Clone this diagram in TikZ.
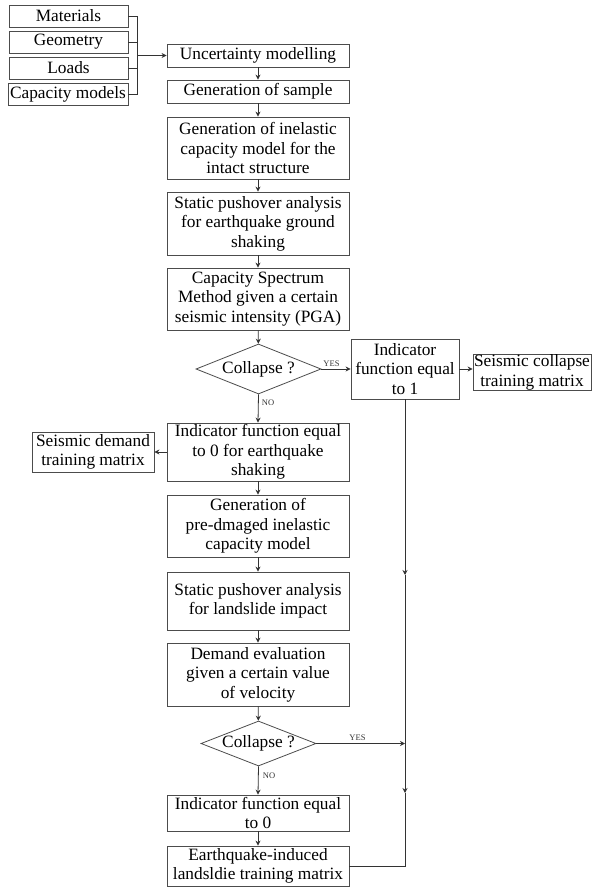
\documentclass[tikz,border=0pt]{standalone}
\usepackage{fontspec}
\setmainfont{Liberation Serif}
\usetikzlibrary{arrows.meta,shapes.geometric}
\begin{document}
\begin{tikzpicture}[x=1pt,y=-1pt,
  box/.style={draw=black!70, line width=0.8pt, inner sep=0pt, align=center,
    font=\fontsize{17.3}{19.5}\selectfont},
  dec/.style={draw=black!70, line width=0.8pt, diamond, aspect=2.5, inner sep=0pt,
    font=\fontsize{17.3}{19.5}\selectfont},
  ln/.style={line width=0.8pt, draw=black!80},
  arr/.style={ln, -{Stealth[length=5pt,width=5pt]}},
  lbl/.style={font=\fontsize{8.5}{9}\selectfont, inner sep=0pt, text=black!80}]
\useasboundingbox (0,0) rectangle (592,888);
% left inputs
\node[box, minimum width=119pt, minimum height=22pt] (mat) at (68.5,16) {Materials};
\node[box, minimum width=119pt, minimum height=22pt] (geo) at (68.5,42) {Geometry};
\node[box, minimum width=119pt, minimum height=22pt] (loa) at (68.5,68) {Loads};
\node[box, minimum width=120pt, minimum height=22pt] (cap) at (68,94) {Capacity models};
\coordinate (j) at (137,55.5);
% main column
\node[box, minimum width=182pt, minimum height=23pt] (unc) at (258,55.5) {Uncertainty modelling};
\node[box, minimum width=182pt, minimum height=23pt] (gen) at (258,91.5) {Generation of sample};
\node[box, minimum width=182pt, minimum height=62pt] (inel) at (258,148) {Generation of inelastic\\capacity model for the\\intact structure};
\node[box, minimum width=182pt, minimum height=63pt] (push) at (258,223.5) {Static pushover analysis\\for earthquake ground\\shaking};
\node[box, minimum width=182pt, minimum height=62pt] (csm) at (258,299) {Capacity Spectrum\\Method given a certain\\seismic intensity (PGA)};
\node[dec, minimum width=125pt, minimum height=50pt] (d1) at (258.5,369) {Collapse ?};
\node[box, minimum width=108pt, minimum height=60pt] (ind1) at (405,369) {Indicator\\function equal\\to 1};
\node[box, minimum width=118pt, minimum height=33pt] (scol) at (532,372.5) {Seismic collapse\\training matrix};
\node[box, minimum width=182pt, minimum height=58pt] (ind0) at (258,452) {Indicator function equal\\to 0 for earthquake\\shaking};
\node[box, minimum width=122pt, minimum height=40pt] (sdem) at (93,452) {Seismic demand\\training matrix};
\node[box, minimum width=182pt, minimum height=62pt] (pre) at (258,526) {Generation of\\pre-dmaged inelastic\\capacity model};
\node[box, minimum width=182pt, minimum height=58pt] (pushl) at (258,601) {Static pushover analysis\\for landslide impact};
\node[box, minimum width=182pt, minimum height=63pt] (dem) at (258,674.5) {Demand evaluation\\given a certain value\\of velocity};
\node[dec, minimum width=115pt, minimum height=45pt] (d2) at (258.5,743.5) {Collapse ?};
\node[box, minimum width=182pt, minimum height=36pt] (ind0b) at (258,813) {Indicator function equal\\to 0};
\node[box, minimum width=182pt, minimum height=40pt] (eq) at (258,866) {Earthquake-induced\\landsldie training matrix};
% labels
\node[lbl] (yes1) at (331.5,363.5) {YES};
\node[lbl] (no1) at (268,403) {NO};
\node[lbl] (yes2) at (357.5,737.5) {YES};
\node[lbl] (no2) at (269,776) {NO};
% connectors
\foreach \n in {mat,geo,loa,cap} \draw[ln] (\n.east) -| (j);
\draw[arr] (j) -- (unc.west);
\draw[arr] (unc) -- (gen);
\draw[arr] (gen) -- (inel);
\draw[arr] (inel) -- (push);
\draw[arr] (push) -- (csm);
\draw[arr] (csm) -- (d1);
\draw[arr] (d1.east) -- (ind1.west);
\draw[arr] (ind1.east) -- (ind1.east -| scol.west);
\draw[arr] (d1.south) -- (ind0.north);
\draw[arr] (ind0.west) -- (sdem.east);
\draw[arr] (ind0) -- (pre);
\draw[arr] (pre) -- (pushl);
\draw[arr] (pushl) -- (dem);
\draw[arr] (dem) -- (d2);
\draw[arr] (d2.south) -- (ind0b.north);
\draw[arr] (ind0b) -- (eq);
\coordinate (c1) at (405,575);
\coordinate (c2) at (405,743.5);
\coordinate (c3) at (405,793);
\draw[arr] (ind1.south) -- (c1);
\draw[ln] (c1) -- (c2);
\draw[arr] (d2.east) -- (c2);
\draw[arr] (c2) -- (c3);
\draw[ln] (c3) |- (eq.east);
\end{tikzpicture}
\end{document}
